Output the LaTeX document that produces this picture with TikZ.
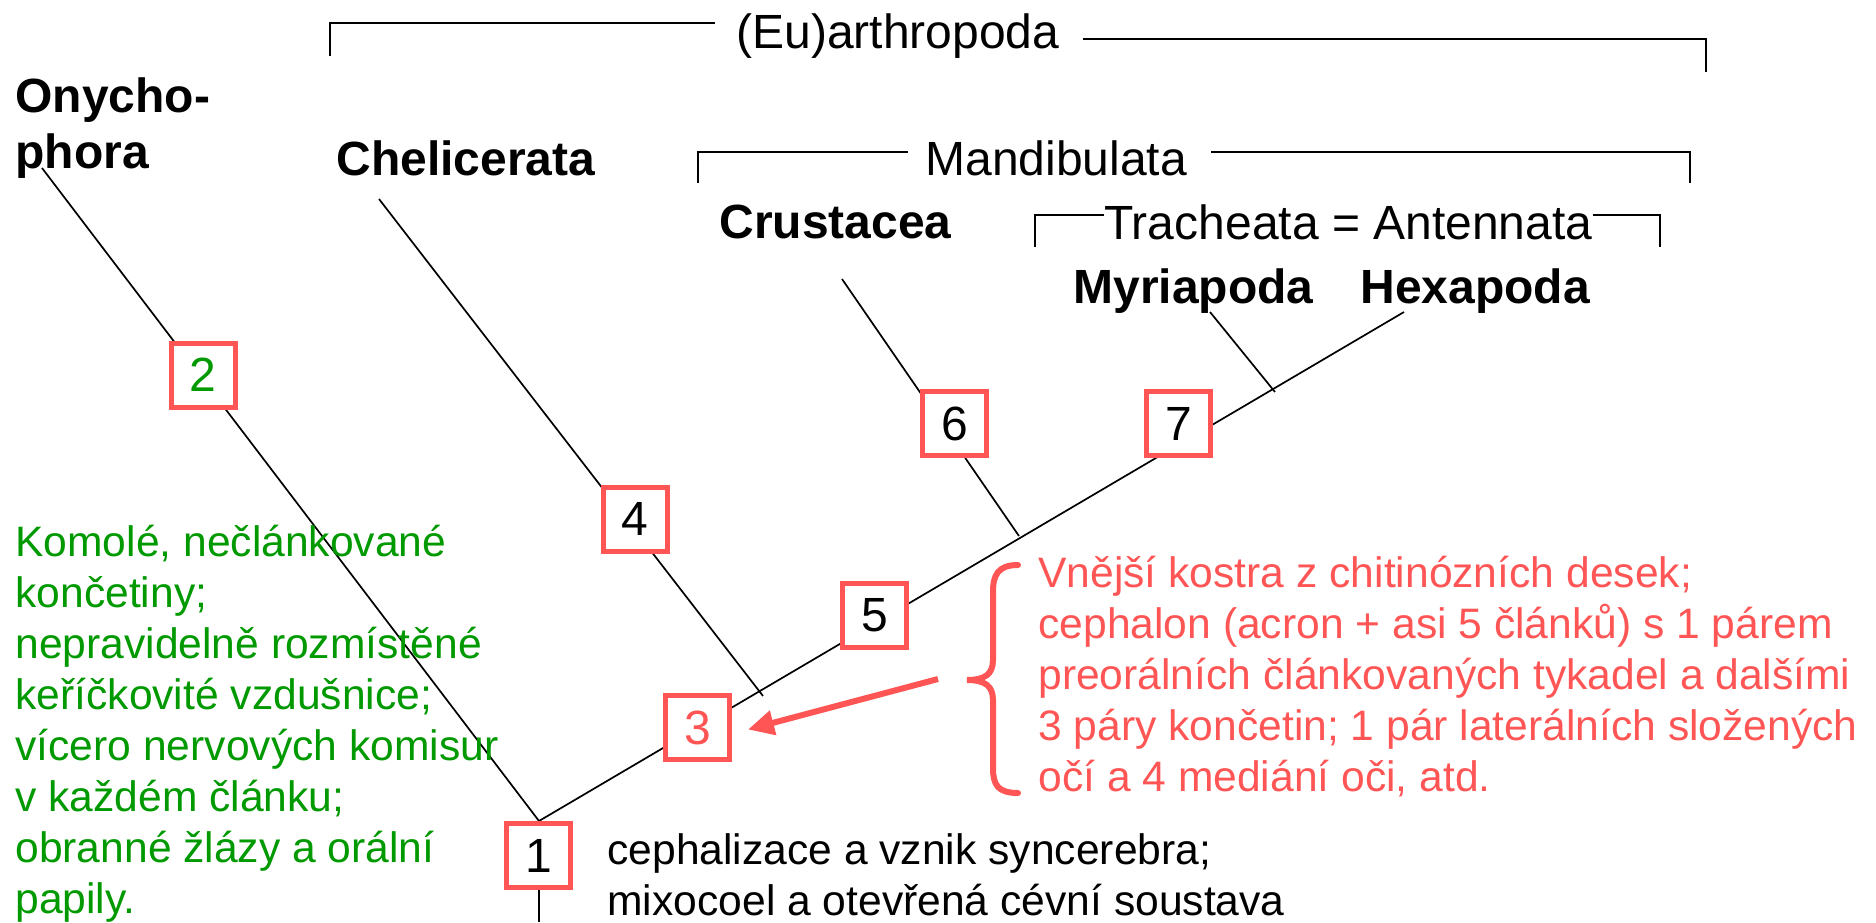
\documentclass[tikz,border=0pt]{standalone}
\usepackage{fontspec}
\setmainfont{Liberation Sans}
\usepackage{xcolor}
\usetikzlibrary{arrows.meta}
\definecolor{boxred}{RGB}{255,85,85}
\definecolor{leafgreen}{RGB}{0,153,0}

\begin{document}
\begin{tikzpicture}[x=0.5pt, y=-0.5pt,
  branch/.style={line width=0.85pt},
  bracket/.style={line width=1pt},
  numbox/.style={draw=boxred, line width=2.5pt, fill=white, minimum size=32pt,
                 inner sep=0pt, font=\fontsize{24}{28}\selectfont},
  taxon/.style={anchor=base west, inner sep=0pt, align=left,
                font=\fontsize{24}{28}\selectfont\bfseries},
  clade/.style={anchor=base west, inner sep=0pt, font=\fontsize{24}{28}\selectfont},
  note/.style={anchor=base west, inner sep=0pt, align=left,
               font=\fontsize{21.3}{25.5}\selectfont},
  redarrow/.style={draw=boxred, line width=3pt, -{Triangle[length=13pt, width=12pt]}},
  brace/.style={draw=boxred, line width=3pt, line cap=round}
]
\useasboundingbox (0,0) rectangle (1876,922);

\coordinate (root) at (539,821);
\coordinate (rootfoot) at (539,922);
\coordinate (onytip) at (42,168);
\coordinate (cheltip) at (379,199);
\coordinate (chelbase) at (763,696);
\coordinate (crusttip) at (842,279);
\coordinate (crustbase) at (1019,536);
\coordinate (myrtip) at (1210,312);
\coordinate (myrbase) at (1275,392);
\coordinate (hexatip) at (1404,312);

\draw[branch] (onytip) -- (root) -- (hexatip);
\draw[branch] (root) -- (rootfoot);
\draw[branch] (cheltip) -- (chelbase);
\draw[branch] (crusttip) -- (crustbase);
\draw[branch] (myrtip) -- (myrbase);

\node[numbox] (n1) at (538.5,855.5) {1};
\node[numbox, text=leafgreen] (n2) at (203,375) {2};
\node[numbox, text=boxred] (n3) at (697.5,727.5) {3};
\node[numbox] (n4) at (635,519) {4};
\node[numbox] (n5) at (874.5,615.5) {5};
\node[numbox] (n6) at (954.5,423.5) {6};
\node[numbox] (n7) at (1178.5,423.5) {7};

\node[taxon] (ony) at (15,168) {Onycho-\\phora};
\node[taxon] (chel) at (336,175) {Chelicerata};
\node[taxon] (crust) at (719,238) {Crustacea};
\node[taxon] (myria) at (1073,303) {Myriapoda};
\node[taxon] (hexa) at (1360,303) {Hexapoda};

\node[clade] (euarth) at (736,48) {(Eu)arthropoda};
\node[clade] (mand) at (925,175) {Mandibulata};
\node[clade] (trach) at (1104,239) {Tracheata = Antennata};

\draw[bracket] (330,56) |- (715,23);
\draw[bracket] (1083,39) -| (1706,72);
\draw[bracket] (698,183) |- (908,152);
\draw[bracket] (1211,152) -| (1690,183);
\draw[bracket] (1035,247) |- (trach.west |- 0,215);
\draw[bracket] (trach.east |- 0,215) -| (1660,247);

\node[note, text=leafgreen] (onynote) at (15,913) {Komolé, nečlánkované\\končetiny;\\nepravidelně rozmístěné\\keříčkovité vzdušnice;\\vícero nervových komisur\\v každém článku;\\obranné žlázy a orální\\papily.};
\node[note, text=boxred] (arthnote) at (1038,791) {Vnější kostra z chitinózních desek;\\cephalon (acron + asi 5 článků) s 1 párem\\preorálních článkovaných tykadel a dalšími\\3 páry končetin; 1 pár laterálních složených\\očí a 4 mediání oči, atd.};
\node[note] (rootnote) at (607,915) {cephalizace a vznik syncerebra;\\mixocoel a otevřená cévní soustava};

\draw[brace] (1018,565) .. controls (998,565) and (993,575) .. (993,592) -- (993,660)
  .. controls (993,674) and (985,680) .. (967,680)
  .. controls (985,680) and (993,686) .. (993,700) -- (993,768)
  .. controls (993,785) and (998,793) .. (1018,793);
\coordinate (arrtail) at (938,679);
\draw[redarrow] (arrtail) -- ([xshift=8pt,yshift=-1pt]n3.east);
\end{tikzpicture}
\end{document}
